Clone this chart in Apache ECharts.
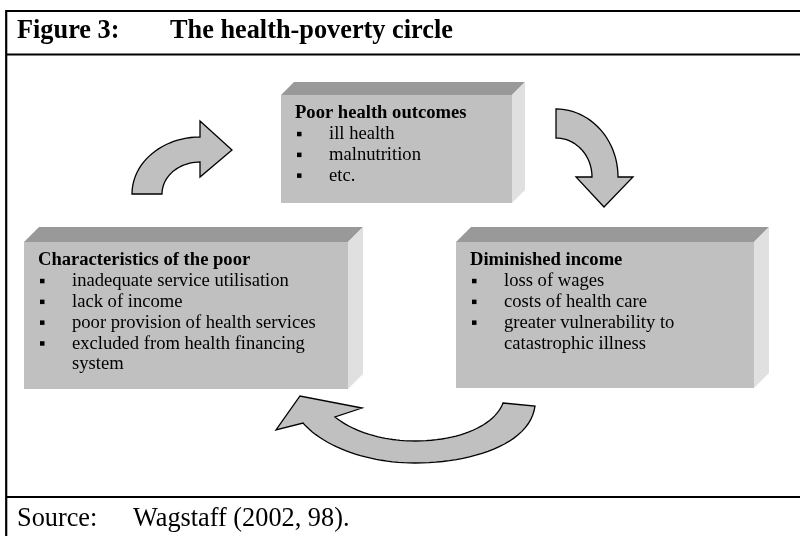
<!DOCTYPE html>
<html>
<head>
<meta charset="utf-8">
<script src="https://cdn.jsdelivr.net/npm/echarts@6/dist/echarts.min.js"></script>
<style>
html,body{margin:0;padding:0;background:#fff;}
#chart{width:800px;height:536px;}
</style>
</head>
<body>
<div id="chart"></div>
<script>
// ---- content ----
const figureLabel = 'Figure 3:';
const figureTitle = 'The health-poverty circle';
const sourceLabel = 'Source:';
const sourceText = 'Wagstaff (2002, 98).';
const boxTitles = ['Poor health outcomes', 'Diminished income', 'Characteristics of the poor'];
const healthItems = ['ill health', 'malnutrition', 'etc.'];
const incomeItems = ['loss of wages', 'costs of health care', 'greater vulnerability to\ncatastrophic illness'];
const poorItems = ['inadequate service utilisation', 'lack of income', 'poor provision of health services', 'excluded from health financing\nsystem'];

// ---- layout / styles ----
const SERIF = '"Liberation Serif", "Times New Roman", serif';
const FRONT = '#c0c0c0', TOP = '#999999', SIDE = '#e0e0e0';
const boxes = [
  {x: 281, y: 95, w: 231, h: 108, d: 13, title: boxTitles[0], items: healthItems},
  {x: 456, y: 242, w: 298, h: 146, d: 15, title: boxTitles[1], items: incomeItems},
  {x: 24, y: 242, w: 324, h: 147, d: 15, title: boxTitles[2], items: poorItems}
];

const g = [];
function line(x1, y1, x2, y2) {
  g.push({type: 'line', silent: true, shape: {x1, y1, x2, y2}, style: {stroke: '#000', lineWidth: 2.2}});
}
function text(str, x, y, size, bold) {
  g.push({type: 'text', silent: true, style: {
    text: str, x, y, font: (bold ? 'bold ' : '') + size + 'px ' + SERIF,
    fill: '#000', align: 'left', verticalAlign: 'middle', textAlign: 'left', textVerticalAlign: 'middle'
  }});
}

// frame
line(6.2, 11, 800, 11);
line(6.2, 10, 6.2, 536);
line(6.2, 54.5, 800, 54.5);
line(6.2, 497, 800, 497);
text(figureLabel, 17, 31, 26.3, true);
text(figureTitle, 170, 31, 26.3, true);
text(sourceLabel, 17, 519, 26.3, false);
text(sourceText, 133, 519, 26.3, false);

// boxes
boxes.forEach(b => {
  const {x, y, w, h, d} = b;
  g.push({type: 'polygon', silent: true, shape: {points: [[x, y], [x + d, y - d], [x + w + d, y - d], [x + w, y]]}, style: {fill: TOP}});
  g.push({type: 'polygon', silent: true, shape: {points: [[x + w, y], [x + w + d, y - d], [x + w + d, y + h - d], [x + w, y + h]]}, style: {fill: SIDE}});
  g.push({type: 'rect', silent: true, shape: {x, y, width: w, height: h}, style: {fill: FRONT}});
  const lh = 20.8;
  let ty = y + 18.5;
  text(b.title, x + 14, ty, 18.6, true);
  b.items.forEach(it => {
    const parts = it.split('\n');
    parts.forEach((p, i) => {
      ty += lh;
      if (i === 0) {
        g.push({type: 'rect', silent: true, shape: {x: x + 16, y: ty - 2.5, width: 4.5, height: 4.5}, style: {fill: '#000'}});
      }
      text(p, x + 48, ty, 18.6, false);
    });
  });
});

// arrows (outline paths: M/L/C commands, flattened to polygons)
const arrowStyle = {fill: '#c0c0c0', stroke: '#000', lineWidth: 1.3, lineJoin: 'miter'};
const arrowPaths = [
  'M132 194 C132 162.5 162.5 137 200 137 L200 121 L232 150 L200 177 L200 162 C179 162 162 176.3 162 194 Z',
  'M556 109 C590.2 109 618 139.5 618 177 L633 177 L604 207 L576 177 L592 177 C592 155.5 575.9 138 556 138 Z',
  'M503 403 L535 406 C530 445 470 463 415 463 C370 463 325 448 303 423 L276 430 L300 396 L362 408 L335 417 C355 433 385 441 415 441 C460 441 495 425 503 403 Z'
];
function flatten(path) {
  const tok = path.match(/[MLCZ]|-?\d+(\.\d+)?/g);
  const pts = [];
  let i = 0, cmd = null;
  while (i < tok.length) {
    if (/[MLCZ]/.test(tok[i])) { cmd = tok[i++]; if (cmd === 'Z') continue; }
    if (cmd === 'M' || cmd === 'L') {
      pts.push([+tok[i], +tok[i + 1]]); i += 2;
    } else if (cmd === 'C') {
      const p0 = pts[pts.length - 1];
      const c = [];
      for (let k = 0; k < 6; k++) c.push(+tok[i + k]);
      i += 6;
      const N = 24;
      for (let s = 1; s <= N; s++) {
        const t = s / N, u = 1 - t;
        const a = u * u * u, bb = 3 * u * u * t, cc = 3 * u * t * t, dd = t * t * t;
        pts.push([a * p0[0] + bb * c[0] + cc * c[2] + dd * c[4], a * p0[1] + bb * c[1] + cc * c[3] + dd * c[5]]);
      }
    } else { i++; }
  }
  return pts;
}
arrowPaths.forEach(p => g.push({type: 'polygon', silent: true, shape: {points: flatten(p)}, style: arrowStyle}));

const chart = echarts.init(document.getElementById('chart'), null, {renderer: 'canvas'});
chart.setOption({
  backgroundColor: '#ffffff',
  animation: false,
  graphic: {elements: g}
});
</script>
</body>
</html>
